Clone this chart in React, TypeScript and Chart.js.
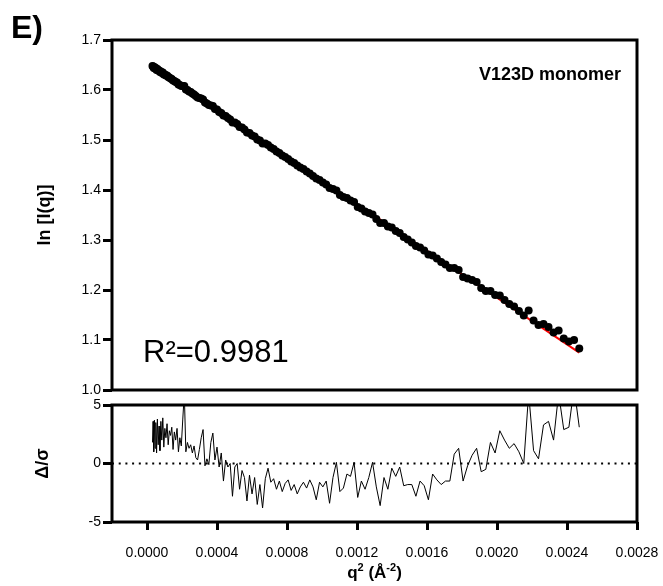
import React, { useEffect, useRef } from "react";
import { Chart, registerables } from "chart.js";

Chart.register(...registerables);

// q² values in units of 1e-6 Å⁻²
const q2e6 = [
  31.36, 34.81, 38.44, 42.25, 46.24, 50.41, 54.76, 59.29, 64.0, 68.89,
  73.96, 79.21, 84.64, 90.25, 96.04, 102.01, 108.16, 114.49, 121.0, 127.69,
  134.56, 141.61, 148.84, 156.25, 163.84, 171.61, 179.56, 187.69, 196.0, 204.49,
  213.16, 222.01, 231.04, 240.25, 249.64, 259.21, 268.96, 278.89, 289.0, 299.29,
  309.76, 320.41, 331.24, 342.25, 353.44, 364.81, 376.36, 388.09, 400.0, 412.09,
  424.36, 436.81, 449.44, 462.25, 475.24, 488.41, 501.76, 515.29, 529.0, 542.89,
  556.96, 571.21, 585.64, 600.25, 615.04, 630.01, 645.16, 660.49, 676.0, 691.69,
  707.56, 723.61, 739.84, 756.25, 772.84, 789.61, 806.56, 823.69, 841.0, 858.49,
  876.16, 894.01, 912.04, 930.25, 948.64, 967.21, 985.96, 1004.89, 1024.0, 1043.29,
  1062.76, 1082.41, 1102.24, 1122.25, 1142.44, 1162.81, 1183.36, 1204.09, 1225.0, 1246.09,
  1267.36, 1288.81, 1310.44, 1332.25, 1354.24, 1376.41, 1398.76, 1421.29, 1444.0, 1466.89,
  1489.96, 1513.21, 1536.64, 1560.25, 1584.04, 1608.01, 1632.16, 1656.49, 1681.0, 1705.69,
  1730.56, 1755.61, 1780.84, 1806.25, 1831.84, 1857.61, 1883.56, 1909.69, 1936.0, 1962.49,
  1989.16, 2016.01, 2043.04, 2070.25, 2097.64, 2125.21, 2152.96, 2180.89, 2209.0, 2237.29,
  2265.76, 2294.41, 2323.24, 2352.25, 2381.44, 2410.81, 2440.36, 2470.09,
];

// ln I(q)
const lnI = [
  1.648, 1.647, 1.644, 1.646, 1.643, 1.644, 1.640, 1.642, 1.639, 1.639,
  1.636, 1.637, 1.634, 1.635, 1.631, 1.631, 1.629, 1.629, 1.626, 1.625,
  1.623, 1.622, 1.619, 1.618, 1.616, 1.615, 1.611, 1.610, 1.608, 1.608,
  1.608, 1.601, 1.600, 1.597, 1.596, 1.593, 1.591, 1.588, 1.585, 1.584,
  1.583, 1.581, 1.575, 1.573, 1.570, 1.569, 1.568, 1.562, 1.561, 1.556,
  1.554, 1.549, 1.548, 1.544, 1.541, 1.535, 1.535, 1.532, 1.526, 1.525,
  1.521, 1.515, 1.514, 1.509, 1.507, 1.501, 1.499, 1.493, 1.493, 1.490,
  1.485, 1.482, 1.477, 1.474, 1.469, 1.466, 1.462, 1.457, 1.454, 1.449,
  1.445, 1.442, 1.437, 1.433, 1.428, 1.423, 1.420, 1.415, 1.411, 1.404,
  1.402, 1.399, 1.390, 1.386, 1.384, 1.379, 1.376, 1.366, 1.363, 1.357,
  1.354, 1.351, 1.342, 1.334, 1.334, 1.327, 1.325, 1.318, 1.314, 1.306,
  1.301, 1.295, 1.288, 1.285, 1.279, 1.271, 1.269, 1.263, 1.256, 1.251,
  1.244, 1.244, 1.240, 1.226, 1.223, 1.220, 1.216, 1.204, 1.198, 1.198,
  1.190, 1.189, 1.180, 1.172, 1.167, 1.158, 1.149, 1.159, 1.139, 1.130,
  1.132, 1.126, 1.115, 1.119, 1.103, 1.097, 1.100, 1.083,
];

// normalised residuals Δ/σ
const residual = [
  1.8, 3.6, 1.0, 3.7, 1.3, 3.5, 0.9, 3.8, 1.6, 3.2,
  1.1, 3.6, 2.0, 3.9, 1.4, 3.0, 2.2, 3.4, 1.6, 2.8,
  2.4, 3.1, 1.2, 2.7, 2.0, 3.0, 1.0, 2.2, 1.5, 3.8,
  6.0, 1.0, 1.8, 1.3, 1.6, 0.9, 1.5, 0.5, 0.3, 1.2,
  2.2, 2.9, -0.2, 0.4, -0.1, 1.8, 2.6, 0.3, 1.4, -0.3,
  0.9, -1.5, 0.3, -0.3, 0.0, -2.8, -0.3, 0.0, -2.2, -0.6,
  -1.2, -3.2, -1.0, -2.6, -1.2, -3.5, -1.8, -3.8, -1.3, -0.4,
  -1.6, -1.3, -2.2, -1.5, -2.4, -1.7, -1.4, -2.3, -1.8, -2.6,
  -2.0, -1.6, -2.1, -1.4, -2.0, -3.1, -1.6, -2.0, -1.5, -3.4,
  -1.2, 0.1, -2.4, -2.1, -0.9, -1.1, 0.1, -2.9, -1.5, -2.2,
  -1.2, 0.1, -2.0, -3.6, -1.2, -2.2, -0.4, -1.1, -0.3, -1.9,
  -1.8, -1.8, -2.8, -1.5, -1.9, -3.1, -0.9, -1.4, -1.8, -1.5,
  -1.5, 0.8, 1.3, -1.5, -0.2, 0.7, 1.3, -0.7, -0.5, 1.8,
  0.9, 2.8, 2.0, 1.3, 1.7, 1.0, 0.0, 6.0, 1.1, 0.4,
  3.3, 3.6, 2.0, 6.0, 2.9, 3.1, 6.5, 3.1,
];

// Guinier fit line end points
const fitQ2e6 = [31.36, 2470.09];
const fitLnI = [1.6453, 1.0746];

// zero reference line in residual panel
const zeroLineX = [-0.0002, 0.0028];
const zeroLineY = [0, 0];

const xTicks = [0, 0.0004, 0.0008, 0.0012, 0.0016, 0.002, 0.0024, 0.0028];
const yTicksTop = [1.0, 1.1, 1.2, 1.3, 1.4, 1.5, 1.6, 1.7];
const yTicksBottom = [-5, 0, 5];

const FONT = "Arial, 'Liberation Sans', Helvetica, sans-serif";

const framePlugin = {
  id: "frame",
  afterDraw(chart: any) {
    const { ctx, chartArea: a } = chart;
    ctx.save();
    ctx.strokeStyle = "#000";
    ctx.lineWidth = 3;
    ctx.strokeRect(a.left, a.top, a.right - a.left, a.bottom - a.top);
    ctx.restore();
  },
};

// draws a run of [text, isSuperscript] parts centred at cx
function drawRich(ctx: any, parts: [string, boolean][], cx: number, base: number, size: number, supSize: number, bold: boolean) {
  const w = bold ? "bold " : "";
  let total = 0;
  const widths = parts.map(([t, sup]) => {
    ctx.font = `${w}${sup ? supSize : size}px ${FONT}`;
    const m = ctx.measureText(t).width;
    total += m;
    return m;
  });
  let x = cx - total / 2;
  parts.forEach(([t, sup], i) => {
    ctx.font = `${w}${sup ? supSize : size}px ${FONT}`;
    ctx.fillText(t, x, sup ? base - size * 0.42 : base);
    x += widths[i];
  });
}

const annotPlugin = {
  id: "annot",
  afterDraw(chart: any) {
    const { ctx } = chart;
    ctx.save();
    ctx.fillStyle = "#000";
    ctx.textBaseline = "alphabetic";
    ctx.textAlign = "left";
    ctx.font = `bold 32px ${FONT}`;
    ctx.fillText("E)", 11, 38);
    ctx.textAlign = "right";
    ctx.font = `bold 18px ${FONT}`;
    ctx.fillText("V123D monomer", 621, 80);
    ctx.textAlign = "left";
    ctx.font = `31px ${FONT}`;
    ctx.fillText("R²=0.9981", 143, 362);
    ctx.restore();
  },
};

const xTitlePlugin = {
  id: "xtitle",
  afterDraw(chart: any) {
    const { ctx, chartArea: a } = chart;
    ctx.save();
    ctx.fillStyle = "#000";
    ctx.textBaseline = "alphabetic";
    ctx.textAlign = "left";
    drawRich(
      ctx,
      [
        ["q", false],
        ["2", true],
        [" (Å", false],
        ["-2", true],
        [")", false],
      ],
      (a.left + a.right) / 2,
      183,
      17,
      11,
      true
    );
    ctx.restore();
  },
};

export default function App() {
  const topRef = useRef<HTMLCanvasElement>(null);
  const botRef = useRef<HTMLCanvasElement>(null);

  useEffect(() => {
    const pts = q2e6.map((q, i) => ({ x: q * 1e-6, y: lnI[i] }));
    const fit = fitQ2e6.map((q, i) => ({ x: q * 1e-6, y: fitLnI[i] }));
    const res = q2e6.map((q, i) => ({ x: q * 1e-6, y: residual[i] }));
    const zero = zeroLineX.map((x, i) => ({ x, y: zeroLineY[i] }));

    const tickFont = { family: FONT, size: 14 };

    const top = new Chart(topRef.current!, {
      type: "scatter",
      data: {
        datasets: [
          {
            data: pts,
            pointRadius: 4,
            pointBackgroundColor: "#000",
            pointBorderColor: "#000",
            pointBorderWidth: 0,
            showLine: false,
          },
          {
            data: fit,
            showLine: true,
            borderColor: "#ff0000",
            borderWidth: 2,
            pointRadius: 0,
          },
        ],
      },
      options: {
        responsive: false,
        animation: false,
        events: [],
        layout: { padding: { top: 40, right: 26, bottom: 10, left: 0 } },
        plugins: { legend: { display: false }, tooltip: { enabled: false } },
        scales: {
          x: { type: "linear", display: false, min: -0.0002, max: 0.0028 },
          y: {
            type: "linear",
            min: 1.0,
            max: 1.7,
            afterBuildTicks: (s: any) => {
              s.ticks = yTicksTop.map((v) => ({ value: v }));
            },
            afterFit: (s: any) => {
              s.width = 112;
              s.paddingTop = 0;
              s.paddingBottom = 0;
            },
            border: { display: false },
            grid: {
              display: true,
              drawOnChartArea: false,
              drawTicks: true,
              tickLength: 9,
              tickWidth: 3,
              tickColor: "#000",
            },
            ticks: {
              padding: 2,
              color: "#000",
              font: tickFont,
              callback: (v: any) => Number(v).toFixed(1),
            },
            title: {
              display: true,
              text: "ln [I(q)]",
              color: "#000",
              font: { family: FONT, size: 18, weight: "bold" },
              padding: { top: 34, bottom: 0 },
            },
          },
        },
      } as any,
      plugins: [framePlugin, annotPlugin],
    });

    const bot = new Chart(botRef.current!, {
      type: "scatter",
      data: {
        datasets: [
          {
            data: res,
            showLine: true,
            borderColor: "#000",
            borderWidth: 1,
            pointRadius: 0,
          },
          {
            data: zero,
            showLine: true,
            borderColor: "#000",
            borderWidth: 2,
            borderDash: [2, 4.7],
            pointRadius: 0,
          },
        ],
      },
      options: {
        responsive: false,
        animation: false,
        events: [],
        layout: { padding: { top: 10, right: 26, bottom: 0, left: 0 } },
        plugins: { legend: { display: false }, tooltip: { enabled: false } },
        scales: {
          x: {
            type: "linear",
            min: -0.0002,
            max: 0.0028,
            afterBuildTicks: (s: any) => {
              s.ticks = xTicks.map((v) => ({ value: v }));
            },
            afterFit: (s: any) => {
              s.height = 64;
              s.paddingLeft = 0;
              s.paddingRight = 0;
            },
            border: { display: false },
            grid: {
              display: true,
              drawOnChartArea: false,
              drawTicks: true,
              tickLength: 8,
              tickWidth: 3,
              tickColor: "#000",
            },
            ticks: {
              padding: 15,
              color: "#000",
              font: tickFont,
              maxRotation: 0,
              autoSkip: false,
              callback: (v: any) => Number(v).toFixed(4),
            },
          },
          y: {
            type: "linear",
            min: -5,
            max: 5,
            afterBuildTicks: (s: any) => {
              s.ticks = yTicksBottom.map((v) => ({ value: v }));
            },
            afterFit: (s: any) => {
              s.width = 112;
              s.paddingTop = 0;
              s.paddingBottom = 0;
            },
            border: { display: false },
            grid: {
              display: true,
              drawOnChartArea: false,
              drawTicks: true,
              tickLength: 9,
              tickWidth: 3,
              tickColor: "#000",
            },
            ticks: {
              padding: 2,
              color: "#000",
              font: tickFont,
              callback: (v: any) => String(v),
            },
            title: {
              display: true,
              text: "Δ/σ",
              color: "#000",
              font: { family: FONT, size: 18, weight: "bold" },
              padding: { top: 32, bottom: 0 },
            },
          },
        },
      } as any,
      plugins: [framePlugin, xTitlePlugin],
    });

    return () => {
      top.destroy();
      bot.destroy();
    };
  }, []);

  return (
    <div
      style={{
        position: "absolute",
        left: 0,
        top: 0,
        width: 663,
        height: 586,
        background: "#fff",
        overflow: "hidden",
      }}
    >
      <canvas
        ref={topRef}
        width={663}
        height={400}
        style={{ position: "absolute", left: 0, top: 0, display: "block" }}
      />
      <canvas
        ref={botRef}
        width={663}
        height={191}
        style={{ position: "absolute", left: 0, top: 395, display: "block" }}
      />
    </div>
  );
}
